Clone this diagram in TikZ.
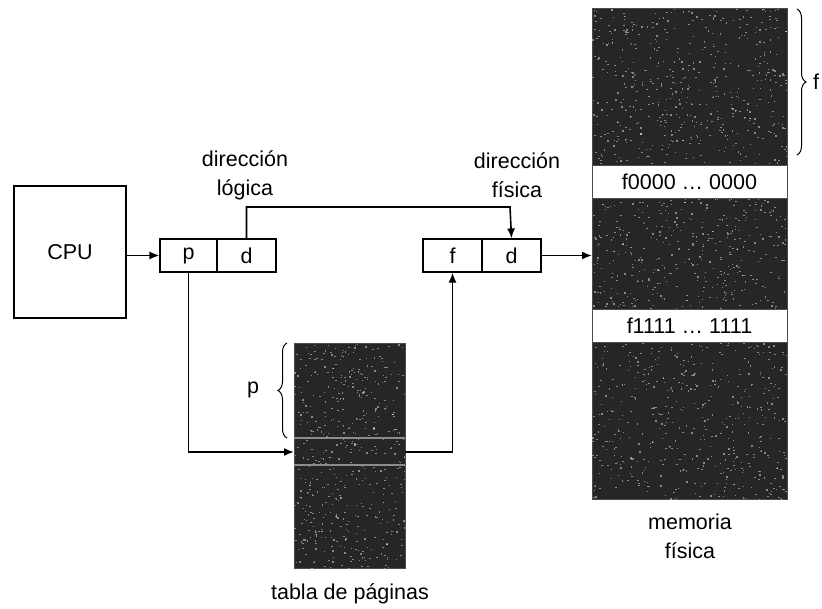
\documentclass[tikz,border=0pt]{standalone}
\usepackage{fontspec}
\setmainfont{Liberation Sans}
\usetikzlibrary{arrows.meta,decorations.pathreplacing}
\begin{document}
\begin{tikzpicture}[x=1pt,y=-1pt,
  box/.style={draw,line width=1.2pt,inner sep=0pt},
  dark/.style={fill=black!85,draw=black!70,line width=0.8pt},
  band/.style={fill=white,draw=black!70,line width=0.8pt},
  conn/.style={line width=1.6pt,-{Latex[length=10pt,width=8pt]}},
  lbl/.style={font=\fontsize{21.5}{29}\selectfont,align=center,inner sep=0pt},
  brc/.style={decorate,decoration={brace,amplitude=9pt},line width=1pt},
  speck/.style={fill=white,opacity=0.45}]
\useasboundingbox (0,0) rectangle (822,608);
% CPU
\node[box,minimum width=112pt,minimum height=132pt,lbl] (cpu) at (70,252) {CPU};
% logical address
\node[box,minimum width=57pt,minimum height=33pt,lbl] (p) at (188.5,255.5) {p};
\node[box,minimum width=59pt,minimum height=33pt,lbl] (d1) at (246.5,255.5) {d};
\node[lbl] (llbl) at (245,175) {dirección\\lógica};
% physical address
\node[box,minimum width=59pt,minimum height=33pt,lbl] (f) at (452.5,255.5) {f};
\node[box,minimum width=59pt,minimum height=33pt,lbl] (d2) at (511.5,255.5) {d};
\node[lbl] (plbl) at (517,175) {dirección\\física};
% page table
\draw[dark] (294,343) rectangle (405,568);
\begin{scope}
\clip (294,343) rectangle (405,568);
\pgfmathsetseed{7}
\foreach \i in {1,...,500}{
  \pgfmathsetmacro{\xx}{294+111*rnd}
  \pgfmathsetmacro{\yy}{343+225*rnd}
  \fill[speck] (\xx,\yy) rectangle ++(1.5,1.2);
}
\end{scope}
\node[inner sep=0pt,minimum width=111pt,minimum height=225pt] (pt) at (349.5,455.5) {};
\draw[black!45,line width=1.2pt] (294,438) -- (405,438) (294,465) -- (405,465);
\coordinate (ptin) at (294,452);
\coordinate (ptout) at (405,452);
\draw[brc] (287,438) -- (287,343);
\node[lbl] (plab) at (253,390) {p};
\node[lbl] (ptl) at (350,594) {tabla de páginas};
% memory
\draw[dark] (592,8) rectangle (787,499);
\begin{scope}
\clip (592,8) rectangle (787,499);
\pgfmathsetseed{11}
\foreach \i in {1,...,1600}{
  \pgfmathsetmacro{\xx}{592+195*rnd}
  \pgfmathsetmacro{\yy}{8+491*rnd}
  \fill[speck] (\xx,\yy) rectangle ++(1.5,1.2);
}
\end{scope}
\node[inner sep=0pt,minimum width=195pt,minimum height=491pt] (mem) at (689.5,253.5) {};
\node[band,minimum width=195pt,minimum height=33pt,lbl] (b0) at (689.5,182) {f0000 … 0000};
\node[band,minimum width=195pt,minimum height=33pt,lbl] (b1) at (689.5,325.5) {f1111 … 1111};
\draw[brc] (797,9) -- (797,155);
\node[lbl,anchor=west] (flab) at (813,82) {f};
\node[lbl] (ml) at (690,536) {memoria\\física};
% connectors
\draw[conn] (cpu.east |- p.west) -- (p.west);
\draw[conn] (d1.north) |- (510,207) -- (d2.north);
\draw[conn] (d2.east) -- (592,255.5);
\draw[conn] (p.south) |- (ptin);
\draw[conn] (ptout) -| (f.south);
\end{tikzpicture}
\end{document}
